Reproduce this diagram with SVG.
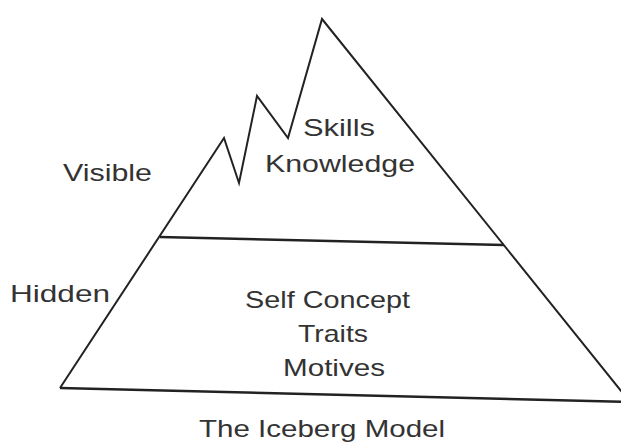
<svg xmlns="http://www.w3.org/2000/svg" width="621" height="443" viewBox="0 0 621 443">
  <style>
    .edge { fill: none; stroke: #222; stroke-width: 2; stroke-linejoin: miter; }
    .thick { fill: none; stroke: #222; stroke-width: 2.6; }
    .lbl { font-family: "Liberation Sans", Arial, sans-serif; font-size: 24px; fill: #333; }
  </style>
  <rect width="621" height="443" fill="#ffffff"/>
  <g id="iceberg">
    <path class="edge" d="M60,388 L224,138 L239,183 L257,96 L288,138 L322,19 L630,402"/>
    <line class="thick" x1="60" y1="388" x2="630" y2="402"/>
  </g>
  <g id="waterline">
    <line class="thick" x1="160" y1="237" x2="504" y2="245"/>
  </g>
  <g id="connectors"></g>
  <g id="visible-part">
    <text class="lbl" x="303" y="136" textLength="72" lengthAdjust="spacingAndGlyphs">Skills</text>
    <text class="lbl" x="265" y="172" textLength="150" lengthAdjust="spacingAndGlyphs">Knowledge</text>
  </g>
  <g id="hidden-part">
    <text class="lbl" x="245" y="308" textLength="165" lengthAdjust="spacingAndGlyphs">Self Concept</text>
    <text class="lbl" x="298" y="342" textLength="70" lengthAdjust="spacingAndGlyphs">Traits</text>
    <text class="lbl" x="283" y="376" textLength="102" lengthAdjust="spacingAndGlyphs">Motives</text>
  </g>
  <g id="label-visible">
    <text class="lbl" x="63" y="181" textLength="89" lengthAdjust="spacingAndGlyphs">Visible</text>
  </g>
  <g id="label-hidden">
    <text class="lbl" x="10" y="302" textLength="100" lengthAdjust="spacingAndGlyphs">Hidden</text>
  </g>
  <g id="title">
    <text class="lbl" x="199" y="437" textLength="246" lengthAdjust="spacingAndGlyphs">The Iceberg Model</text>
  </g>
</svg>
